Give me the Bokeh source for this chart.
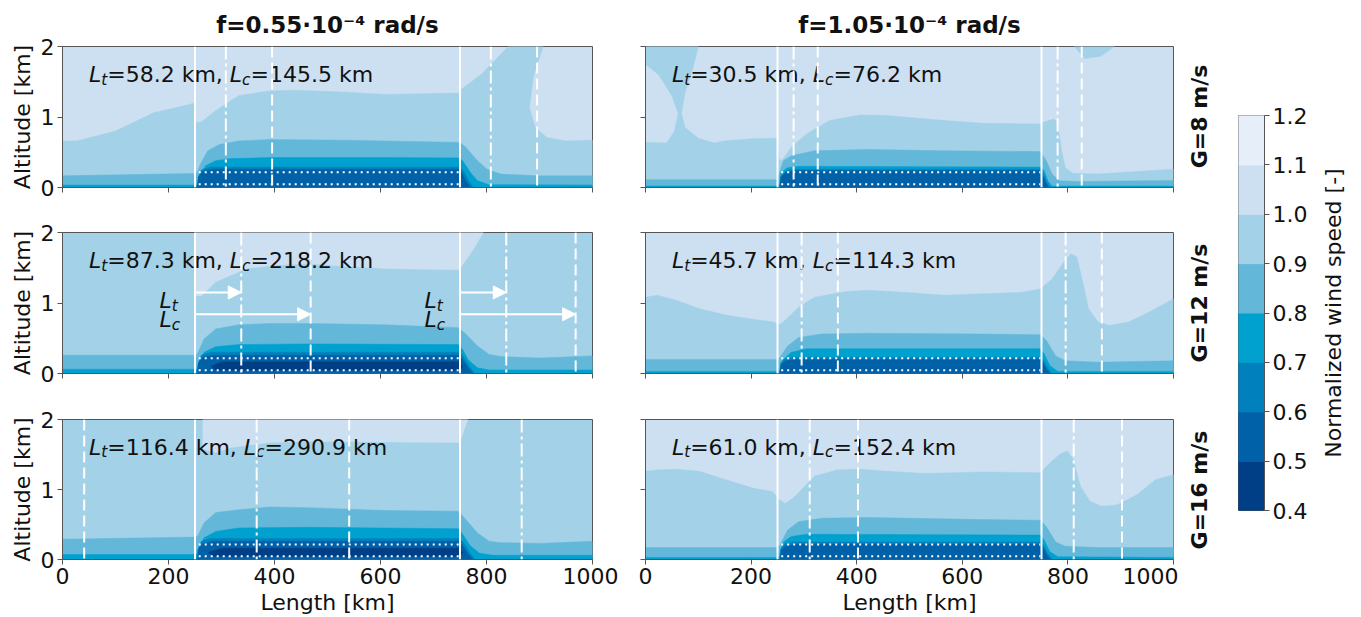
import math
from bokeh.plotting import figure
from bokeh.layouts import row, column
from bokeh.models import Range1d, Span, Arrow, NormalHead, FixedTicker
from bokeh.embed import file_html
from bokeh.resources import INLINE

# ---------------- data ----------------
LEVELS = [0.4, 0.5, 0.6, 0.7, 0.8, 0.9, 1.0, 1.1, 1.2]
BAND_COLORS = ["#003f86", "#0061a8", "#0081bd", "#00a0cf", "#63b8da", "#a3d1e8", "#cce0f1", "#e6eef9"]
F_LABELS = ["f=0.55·10⁻⁴ rad/s", "f=1.05·10⁻⁴ rad/s"]
G_LABELS = ["G=8 m/s", "G=12 m/s", "G=16 m/s"]
CB_LABEL = "Normalized wind speed [-]"
LT = [[58.2, 30.5], [87.3, 45.7], [116.4, 61.0]]
LC = [[145.5, 76.2], [218.2, 114.3], [290.9, 152.4]]
FARM_START, FARM_END = 250, 750
ROTOR_LOW, ROTOR_HIGH = 0.045, 0.215
X_TICKS = [0, 200, 400, 600, 800, 1000]
Y_TICKS = [0, 1, 2]

# contour boundaries (x in km, altitude in km)
# Panel A: f=0.55, G=8
A10_X = [0, 27, 100, 172, 230, 249, 252, 262, 289, 332, 390, 441, 536, 609, 681, 749, 752, 791, 827, 841, 907, 889, 881, 892, 914, 950, 1000]
A10_Y = [0.66, 0.66, 0.80, 1.06, 1.16, 1.20, 0.92, 0.93, 1.09, 1.30, 1.37, 1.38, 1.35, 1.32, 1.33, 1.34, 1.39, 1.61, 1.89, 2.0, 2.0, 1.6, 1.13, 0.85, 0.71, 0.66, 0.67]
A09_X = [0, 250, 252, 256, 260, 274, 296, 332, 390, 536, 681, 750, 761, 783, 801, 827, 900, 1000]
A09_Y = [0.165, 0.20, 0.20, 0.25, 0.33, 0.52, 0.61, 0.66, 0.68, 0.67, 0.65, 0.64, 0.57, 0.38, 0.26, 0.19, 0.165, 0.165]
A08_X = [0, 250, 254, 256, 260, 270, 289, 318, 390, 609, 747, 755, 770, 783, 805, 1000]
A08_Y = [0.035, 0.035, 0.035, 0.10, 0.19, 0.31, 0.38, 0.41, 0.425, 0.425, 0.42, 0.38, 0.21, 0.095, 0.04, 0.035]
A07_X = [254, 256, 262, 280, 748, 756, 766, 775]
A07_Y = [0, 0.15, 0.25, 0.29, 0.29, 0.24, 0.10, 0]
A06_X = [255, 257, 265, 285, 748, 754, 762, 770]
A06_Y = [0, 0.15, 0.23, 0.26, 0.26, 0.20, 0.08, 0]

# Panel B: f=1.05, G=8
B10_X = [0, 40, 130, 150, 200, 249, 253, 258, 276, 305, 349, 407, 457, 566, 639, 748, 755, 773, 780, 788, 795, 810, 857, 1000]
B10_Y = [0.64, 0.63, 0.63, 0.66, 0.69, 0.70, 0.40, 0.38, 0.57, 0.76, 0.95, 1.03, 1.02, 0.95, 0.91, 0.90, 0.93, 0.97, 0.93, 0.52, 0.28, 0.20, 0.19, 0.26]
B10T_X = [0, 100, 90, 75, 68, 75, 100, 130, 40, 55, 62, 50, 25, 0]
B10T_Y = [2.0, 2.0, 1.7, 1.35, 1.05, 0.85, 0.70, 0.63, 0.63, 0.80, 1.05, 1.30, 1.60, 1.75]
B10R_X = [812, 888, 862, 832]
B10R_Y = [2.0, 2.0, 1.86, 1.83]
B09_X = [0, 249, 253, 261, 276, 320, 421, 566, 748, 759, 770, 784, 820, 1000]
B09_Y = [0.11, 0.11, 0.20, 0.38, 0.45, 0.52, 0.54, 0.52, 0.51, 0.38, 0.19, 0.095, 0.085, 0.10]
B08_X = [0, 250, 254, 256, 269, 290, 748, 755, 762, 770, 1000]
B08_Y = [0.02, 0.02, 0.05, 0.21, 0.28, 0.30, 0.29, 0.24, 0.095, 0.02, 0.02]
B07_X = [254, 256, 265, 280, 748, 753, 760, 766]
B07_Y = [0, 0.15, 0.23, 0.26, 0.26, 0.20, 0.08, 0]
B06_X = [255, 257, 265, 285, 748, 752, 758, 764]
B06_Y = [0, 0.15, 0.21, 0.24, 0.24, 0.18, 0.06, 0]

# Panel C: f=0.55, G=12
C11_X = [250, 250, 262, 289, 347, 405, 463, 536, 609, 681, 747, 754, 776, 791, 794]
C11_Y = [2.0, 1.10, 1.10, 1.30, 1.49, 1.54, 1.56, 1.52, 1.49, 1.48, 1.47, 1.53, 1.77, 1.96, 2.0]
C09_X = [0, 250, 252, 256, 267, 289, 332, 390, 463, 609, 747, 761, 783, 805, 827, 900, 1000]
C09_Y = [0.26, 0.26, 0.26, 0.30, 0.49, 0.63, 0.69, 0.71, 0.71, 0.69, 0.65, 0.56, 0.39, 0.27, 0.24, 0.22, 0.25]
C08_X = [0, 250, 254, 256, 267, 289, 332, 463, 747, 755, 765, 783, 805, 1000]
C08_Y = [0.06, 0.06, 0.06, 0.12, 0.30, 0.38, 0.41, 0.42, 0.41, 0.34, 0.20, 0.08, 0.05, 0.05]
C07_X = [254, 256, 262, 280, 748, 756, 768, 778]
C07_Y = [0, 0.15, 0.26, 0.30, 0.30, 0.25, 0.10, 0]
C06_X = [255, 257, 265, 285, 748, 755, 765, 774]
C06_Y = [0, 0.15, 0.23, 0.26, 0.26, 0.20, 0.08, 0]
C05_X = [280, 300, 748, 755, 750, 290]
C05_Y = [0.10, 0.165, 0.165, 0.10, 0.045, 0.045]

# Panel D: f=1.05, G=12
D10_X = [0, 22, 58, 102, 152, 203, 243, 252, 261, 290, 320, 378, 421, 494, 566, 639, 712, 748, 770, 795, 806, 817, 828, 839, 857, 879, 915, 959, 1000]
D10_Y = [1.08, 1.11, 1.04, 0.92, 0.83, 0.77, 0.73, 0.69, 0.73, 0.94, 1.08, 1.16, 1.18, 1.15, 1.11, 1.13, 1.15, 1.20, 1.34, 1.61, 1.70, 1.65, 1.30, 0.92, 0.73, 0.68, 0.73, 0.89, 1.06]
D09_X = [0, 250, 254, 269, 290, 334, 421, 639, 748, 759, 777, 795, 857, 1000]
D09_Y = [0.20, 0.20, 0.22, 0.39, 0.51, 0.56, 0.57, 0.56, 0.55, 0.47, 0.25, 0.18, 0.16, 0.18]
D08_X = [0, 250, 254, 256, 261, 276, 305, 748, 755, 766, 781, 1000]
D08_Y = [0.03, 0.03, 0.04, 0.10, 0.20, 0.30, 0.35, 0.35, 0.28, 0.11, 0.03, 0.03]
D07_X = [254, 256, 262, 280, 748, 754, 762, 770]
D07_Y = [0, 0.15, 0.20, 0.23, 0.23, 0.18, 0.07, 0]
D06_X = [255, 257, 265, 285, 748, 753, 760, 767]
D06_Y = [0, 0.12, 0.18, 0.20, 0.20, 0.15, 0.05, 0]

# Panel E: f=0.55, G=16
E11_X = [265, 265, 289, 318, 390, 463, 609, 750, 758, 765]
E11_Y = [2.0, 1.58, 1.53, 1.60, 1.67, 1.69, 1.68, 1.67, 1.86, 2.0]
E09_X = [0, 250, 252, 256, 267, 289, 332, 390, 463, 609, 747, 761, 783, 805, 827, 900, 1000]
E09_Y = [0.29, 0.32, 0.32, 0.35, 0.52, 0.67, 0.71, 0.75, 0.74, 0.70, 0.69, 0.57, 0.38, 0.26, 0.24, 0.23, 0.26]
E08_X = [0, 250, 254, 256, 267, 289, 332, 463, 747, 755, 770, 787, 812, 1000]
E08_Y = [0.07, 0.07, 0.07, 0.15, 0.31, 0.40, 0.45, 0.46, 0.44, 0.36, 0.19, 0.09, 0.06, 0.06]
E07_X = [254, 256, 262, 280, 748, 756, 768, 778]
E07_Y = [0, 0.15, 0.26, 0.30, 0.30, 0.25, 0.10, 0]
E06_X = [255, 257, 265, 285, 748, 755, 765, 774]
E06_Y = [0, 0.15, 0.23, 0.26, 0.26, 0.20, 0.08, 0]
E05_X = [275, 300, 748, 755, 750, 285]
E05_Y = [0.10, 0.16, 0.16, 0.10, 0.045, 0.045]

# Panel F: f=1.05, G=16
F10_X = [0, 22, 58, 102, 152, 203, 240, 254, 265, 283, 320, 363, 407, 457, 530, 639, 748, 762, 784, 799, 810, 824, 842, 864, 893, 930, 966, 1000]
F10_Y = [1.26, 1.28, 1.29, 1.26, 1.14, 1.02, 0.97, 0.85, 0.80, 0.90, 1.19, 1.28, 1.29, 1.26, 1.23, 1.25, 1.24, 1.35, 1.50, 1.55, 1.43, 1.04, 0.83, 0.76, 0.78, 0.92, 1.14, 1.21]
F09_X = [0, 250, 254, 269, 290, 334, 421, 639, 748, 759, 777, 795, 857, 1000]
F09_Y = [0.17, 0.17, 0.20, 0.42, 0.54, 0.59, 0.60, 0.57, 0.56, 0.47, 0.25, 0.19, 0.17, 0.17]
F08_X = [0, 250, 254, 256, 261, 276, 305, 748, 755, 766, 781, 1000]
F08_Y = [0.03, 0.03, 0.04, 0.10, 0.25, 0.33, 0.36, 0.35, 0.28, 0.11, 0.04, 0.03]
F07_X = [254, 256, 262, 280, 748, 754, 762, 770]
F07_Y = [0, 0.15, 0.22, 0.25, 0.25, 0.20, 0.08, 0]
F06_X = [255, 257, 265, 285, 748, 753, 760, 767]
F06_Y = [0, 0.13, 0.19, 0.22, 0.22, 0.17, 0.06, 0]

# (band index, kind, xs, ys); band i spans LEVELS[i]..LEVELS[i+1]
PANELS = {
    (0, 0): (6, [(5, "ground", A10_X, A10_Y), (4, "ground", A09_X, A09_Y), (3, "ground", A08_X, A08_Y),
                 (2, "ground", A07_X, A07_Y), (1, "ground", A06_X, A06_Y)]),
    (0, 1): (6, [(5, "ground", B10_X, B10_Y), (5, "poly", B10T_X, B10T_Y), (5, "poly", B10R_X, B10R_Y),
                 (4, "ground", B09_X, B09_Y), (3, "ground", B08_X, B08_Y),
                 (2, "ground", B07_X, B07_Y), (1, "ground", B06_X, B06_Y)]),
    (1, 0): (5, [(6, "poly", C11_X, C11_Y), (4, "ground", C09_X, C09_Y), (3, "ground", C08_X, C08_Y),
                 (2, "ground", C07_X, C07_Y), (1, "ground", C06_X, C06_Y), (0, "poly", C05_X, C05_Y)]),
    (1, 1): (6, [(5, "ground", D10_X, D10_Y), (4, "ground", D09_X, D09_Y), (3, "ground", D08_X, D08_Y),
                 (2, "ground", D07_X, D07_Y), (1, "ground", D06_X, D06_Y)]),
    (2, 0): (5, [(6, "poly", E11_X, E11_Y), (4, "ground", E09_X, E09_Y), (3, "ground", E08_X, E08_Y),
                 (2, "ground", E07_X, E07_Y), (1, "ground", E06_X, E06_Y), (0, "poly", E05_X, E05_Y)]),
    (2, 1): (6, [(5, "ground", F10_X, F10_Y), (4, "ground", F09_X, F09_Y), (3, "ground", F08_X, F08_Y),
                 (2, "ground", F07_X, F07_Y), (1, "ground", F06_X, F06_Y)]),
}

# ---------------- styling ----------------
FONT = "DejaVu Sans"
FS = 22
FS_PX = f"{FS}px"
TEXT_COLOR = "#111111"
AXIS_COLOR = "#555555"
CHAR_W = {"0": 0.636, "1": 0.636, "2": 0.636, "3": 0.636, "4": 0.636, "5": 0.636, "6": 0.636,
          "7": 0.636, "8": 0.636, "9": 0.636, ".": 0.318, ",": 0.318, " ": 0.318, "=": 0.838,
          "k": 0.579, "m": 0.974, "L": 0.557, "t": 0.392, "c": 0.550}
SUB_SCALE = 0.7
SUB_DROP_PX = 5

ROW_H = [209, 187, 221]
ROW_TOP = [45, 23, 23]
ROW_BOTTOM = [22, 23, 57]
COL_W = [618, 560]
COL_LEFT = [62, 27]
COL_RIGHT = [26, 5]
G_W = 42
CB_W, CB_LEFT, CB_RIGHT = 90, 18, 42
CB_TOP, CB_BOTTOM = 115, 107
CBL_W = 46
TOTAL_H = 617


def rich_text(p, x, y, parts, px_per_y):
    off = 0.0
    for s, kind in parts:
        size = FS * SUB_SCALE if kind == "sub" else FS
        yy = y - (SUB_DROP_PX / px_per_y if kind == "sub" else 0)
        p.text(x=[x], y=[yy], text=[s], x_offset=off, text_font={"value": FONT},
               text_font_size=f"{size:.1f}px",
               text_font_style="italic" if kind in ("it", "sub") else "normal",
               text_color=TEXT_COLOR, text_align="left", text_baseline="alphabetic")
        off += sum(CHAR_W.get(ch, 0.6) for ch in s) * size


def style_axes(p, r, c):
    p.xaxis.ticker = FixedTicker(ticks=X_TICKS)
    p.yaxis.ticker = FixedTicker(ticks=Y_TICKS)
    p.grid.visible = False
    for ax in (p.xaxis[0], p.yaxis[0]):
        ax.major_tick_out = 5
        ax.major_tick_in = 0
        ax.minor_tick_line_color = None
        ax.major_tick_line_color = AXIS_COLOR
        ax.axis_line_color = AXIS_COLOR
        ax.major_label_text_font = FONT
        ax.major_label_text_font_size = FS_PX
        ax.major_label_text_color = TEXT_COLOR
        ax.axis_label_text_font = FONT
        ax.axis_label_text_font_size = FS_PX
        ax.axis_label_text_font_style = "normal"
        ax.axis_label_text_color = TEXT_COLOR
        ax.major_label_standoff = 3
        ax.axis_label_standoff = 3
    if r == 2:
        p.xaxis.axis_label = "Length [km]"
    else:
        p.xaxis.major_label_overrides = {t: "" for t in X_TICKS}
    if c == 0:
        p.yaxis.axis_label = "Altitude [km]"
    else:
        p.yaxis.major_label_overrides = {t: "" for t in Y_TICKS}


def make_panel(r, c):
    p = figure(width=COL_W[c], height=ROW_H[r], x_range=Range1d(0, 1000), y_range=Range1d(0, 2),
               output_backend="svg", toolbar_location=None,
               min_border_left=COL_LEFT[c], min_border_right=COL_RIGHT[c],
               min_border_top=ROW_TOP[r], min_border_bottom=ROW_BOTTOM[r])
    base, layers = PANELS[(r, c)]
    p.background_fill_color = BAND_COLORS[base]
    p.border_fill_color = "white"
    p.outline_line_color = AXIS_COLOR
    for band, kind, xs, ys in layers:
        if kind == "ground":
            px = list(xs) + [xs[-1], xs[0]]
            py = list(ys) + [0, 0]
        else:
            px, py = list(xs), list(ys)
        p.patch(px, py, fill_color=BAND_COLORS[band], line_color=BAND_COLORS[band], line_width=0.5)

    # rotor area (dotted)
    p.segment(x0=[FARM_START + 7] * 2, y0=[ROTOR_LOW, ROTOR_HIGH], x1=[FARM_END - 2] * 2,
              y1=[ROTOR_LOW, ROTOR_HIGH], line_color="white", line_width=2, line_dash="2 4")

    # farm edges and recovery lengths
    lt, lc = LT[r][c], LC[r][c]
    for loc in (FARM_START, FARM_END):
        p.add_layout(Span(location=loc, dimension="height", line_color="white", line_width=2))
    for edge in (FARM_START, FARM_END):
        p.add_layout(Span(location=(edge + lt) % 1000, dimension="height", line_color="white",
                          line_width=2, line_dash="13 4 3 4"))
        p.add_layout(Span(location=(edge + lc) % 1000, dimension="height", line_color="white",
                          line_width=2, line_dash="11 5"))

    px_per_y = (ROW_H[r] - ROW_TOP[r] - ROW_BOTTOM[r]) / 2.0
    rich_text(p, 50, 1.6, [("L", "it"), ("t", "sub"), (f"={lt:.1f} km, ", "rm"),
                           ("L", "it"), ("c", "sub"), (f"={lc:.1f} km", "rm")], px_per_y)

    if (r, c) == (1, 0):
        for edge in (FARM_START, FARM_END):
            p.add_layout(Arrow(x_start=edge, y_start=1.15, x_end=edge + lt, y_end=1.15,
                               line_color="white", line_width=2,
                               end=NormalHead(size=13, fill_color="white", line_color="white")))
            p.add_layout(Arrow(x_start=edge, y_start=0.84, x_end=edge + lc, y_end=0.84,
                               line_color="white", line_width=2,
                               end=NormalHead(size=13, fill_color="white", line_color="white")))
            rich_text(p, edge - 67, 1.03, [("L", "it"), ("t", "sub")], px_per_y)
            rich_text(p, edge - 67, 0.76, [("L", "it"), ("c", "sub")], px_per_y)

    style_axes(p, r, c)
    if r == 0:
        p.title.text = F_LABELS[c]
        p.title.align = "center"
        p.title.text_font = FONT
        p.title.text_font_size = "23px"
        p.title.text_font_style = "bold"
        p.title.text_color = TEXT_COLOR
        p.title.standoff = 18
    return p


def make_side_label(height, top, bottom, y_lo, y_hi, text, bold, width):
    f = figure(width=width, height=height, x_range=Range1d(0, 1), y_range=Range1d(y_lo, y_hi),
               output_backend="svg", toolbar_location=None, x_axis_location=None,
               y_axis_location=None, min_border_left=0, min_border_right=0,
               min_border_top=top, min_border_bottom=bottom)
    f.grid.visible = False
    f.outline_line_color = None
    f.text(x=[0.5], y=[(y_lo + y_hi) / 2.0], text=[text], angle=math.pi / 2,
           text_font={"value": FONT}, text_font_size=FS_PX,
           text_font_style="bold" if bold else "normal", text_color=TEXT_COLOR,
           text_align="center", text_baseline="middle")
    return f


panels = [[make_panel(r, c) for c in range(2)] for r in range(3)]
g_labels = [make_side_label(ROW_H[r], ROW_TOP[r], ROW_BOTTOM[r], 0, 2, G_LABELS[r], True, G_W)
            for r in range(3)]

# colour bar
cb = figure(width=CB_W, height=TOTAL_H, x_range=Range1d(0, 1), y_range=Range1d(LEVELS[0], LEVELS[-1]),
            output_backend="svg", toolbar_location=None, x_axis_location=None,
            y_axis_location="right", min_border_left=CB_LEFT, min_border_right=CB_RIGHT,
            min_border_top=CB_TOP, min_border_bottom=CB_BOTTOM)
cb.quad(left=0, right=1, bottom=LEVELS[:-1], top=LEVELS[1:], fill_color=BAND_COLORS,
        line_color=BAND_COLORS)
cb.grid.visible = False
cb.outline_line_color = AXIS_COLOR
ya = cb.yaxis[0]
ya.ticker = FixedTicker(ticks=LEVELS)
ya.major_label_overrides = {v: f"{v:.1f}" for v in LEVELS}
ya.major_tick_out = 5
ya.major_tick_in = 0
ya.minor_tick_line_color = None
ya.major_tick_line_color = AXIS_COLOR
ya.axis_line_color = AXIS_COLOR
ya.major_label_text_font = FONT
ya.major_label_text_font_size = FS_PX
ya.major_label_text_color = TEXT_COLOR
ya.major_label_standoff = 3

cb_label = make_side_label(TOTAL_H, CB_TOP, CB_BOTTOM, LEVELS[0], LEVELS[-1], CB_LABEL, False, CBL_W)

layout = row(column(panels[0][0], panels[1][0], panels[2][0]),
             column(panels[0][1], panels[1][1], panels[2][1]),
             column(*g_labels), cb, cb_label)

open("out.html", "w").write(file_html(layout, INLINE))
